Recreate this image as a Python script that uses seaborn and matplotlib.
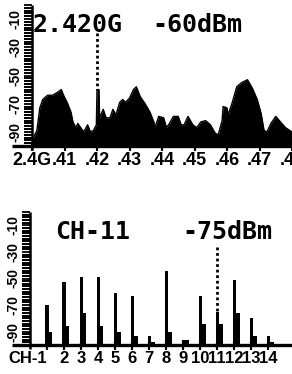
import numpy as np
import seaborn as sns
import matplotlib.pyplot as plt
from matplotlib.ticker import FixedLocator, MultipleLocator
import matplotlib.transforms as mtrans

sns.set_theme(style="ticks")
plt.rcParams['font.family'] = ['Liberation Sans', 'DejaVu Sans']

# spectrum scan, top panel
freq_mhz = [2400.0, 2401.5, 2402.4, 2403.3, 2404.8, 2406.3, 2407.8, 2409.0, 2409.9, 2410.8,
            2412.0, 2412.6, 2413.5, 2414.1, 2415.0, 2415.9, 2417.1, 2418.0, 2418.9, 2419.8,
            2420.0, 2420.6, 2420.8, 2421.9, 2422.8, 2424.0, 2424.9, 2425.8, 2427.0, 2427.9,
            2428.8, 2430.0, 2431.2, 2432.1, 2433.3, 2434.8, 2436.3, 2437.5, 2437.8, 2439.0,
            2440.5, 2441.4, 2442.3, 2443.5, 2445.0, 2445.9, 2446.8, 2448.0, 2449.5, 2450.7,
            2451.9, 2453.4, 2454.9, 2456.4, 2457.3, 2458.5, 2458.8, 2460.0, 2460.3, 2461.5,
            2463.0, 2464.5, 2466.3, 2467.8, 2469.3, 2470.5, 2471.4, 2472.3, 2473.5, 2475.0,
            2476.5, 2478.0, 2480.0]
level_dbm = [-96, -89, -73, -67, -64, -64, -62, -60, -65, -69,
             -76, -83, -87, -84, -87, -90, -85, -90, -89, -85,
             -60, -60, -80, -74, -80, -80, -74, -78, -69, -67,
             -69, -66, -60, -58, -65, -70, -76, -83, -87, -79,
             -80, -87, -84, -79, -79, -85, -85, -79, -85, -87,
             -83, -82, -85, -91, -92, -82, -72, -73, -78, -70,
             -58, -55, -53, -59, -67, -77, -89, -90, -84, -79,
             -83, -87, -90]
marker_freq = 2420.0
marker_dbm = -60
freq_ticks = [2400, 2410, 2420, 2430, 2440, 2450, 2460, 2470, 2480]
freq_labels = ["2.4G", ".41", ".42", ".43", ".44", ".45", ".46", ".47", ".48"]

# channel scan, bottom panel
channels = list(range(1, 15))
ch_peak = [-70, -53, -49, -49, -61, -63, -93, -44, -96, -63, -75, -51, -80, -93]
ch_avg = [-90, -86, -76, -86, -90, -93, -98, -90, -96, -84, -84, -76, -93, -98]
ch_marker = 11
ch_labels = ["CH-1"] + [str(c) for c in channels[1:]]

dbm_ticks = [-10, -30, -50, -70, -90]
floor = -100

fig = plt.figure(figsize=(2.92, 3.74), dpi=100)
W, H = 292, 374
ax1 = fig.add_axes([32 / W, (H - 146) / H, 260 / W, 141 / H])
ax2 = fig.add_axes([30 / W, (H - 345) / H, 262 / W, 133 / H])

# --- top: spectrum ---
ax1.fill_between(freq_mhz, level_dbm, floor, color="black", lw=0)
sns.lineplot(x=freq_mhz, y=level_dbm, color="black", lw=1, ax=ax1)
ax1.plot([marker_freq, marker_freq], [-20, marker_dbm], color="black",
         lw=2, linestyle=(0, (1, 1)))
ax1.set_xlim(2400, 2480)
ax1.set_ylim(floor, 0)
ax1.xaxis.set_major_locator(FixedLocator(freq_ticks))
ax1.set_xticklabels(freq_labels, fontsize=13, fontweight="bold")
ax1.yaxis.set_major_locator(FixedLocator(dbm_ticks))
ax1.set_yticklabels([str(t) for t in dbm_ticks], rotation=90, va="center",
                    fontsize=10, fontweight="bold")
ax1.yaxis.set_minor_locator(MultipleLocator(2))

# --- bottom: channels ---
sns.barplot(x=channels, y=np.array(ch_peak) - floor, native_scale=True, width=0.18,
            color="black", linewidth=0, saturation=1, errorbar=None, ax=ax2)
sns.barplot(x=np.array(channels) + 0.2, y=np.array(ch_avg) - floor, native_scale=True,
            width=0.24, color="black", linewidth=0, saturation=1, errorbar=None, ax=ax2)
ax2.plot([ch_marker, ch_marker], [74, ch_peak[ch_marker - 1] - floor], color="black",
         lw=2, linestyle=(0, (1, 1)))
ax2.set_xlim(0, 15.4)
ax2.set_ylim(0, 100)
ax2.xaxis.set_major_locator(FixedLocator(channels))
ax2.set_xticklabels(ch_labels, fontsize=12, fontweight="bold")
ax2.yaxis.set_major_locator(FixedLocator([t - floor for t in dbm_ticks]))
ax2.set_yticklabels([str(t) for t in dbm_ticks], rotation=90, va="center",
                    fontsize=10, fontweight="bold")
ax2.yaxis.set_minor_locator(MultipleLocator(2))
lab0 = ax2.get_xticklabels()[0]
lab0.set_horizontalalignment("right")
lab0.set_transform(lab0.get_transform() + mtrans.ScaledTranslation(5 / 100, 0, fig.dpi_scale_trans))

for ax, x0, wpx in ((ax1, -20 / 260, 260), (ax2, -18 / 262, 262)):
    ax.set_xlabel("")
    ax.set_ylabel("")
    ax.patch.set_alpha(0)
    for s in ("top", "right", "bottom", "left"):
        ax.spines[s].set_visible(False)
    ax.plot([x0, 1], [0, 0], transform=ax.transAxes, color="black", lw=2.4,
            clip_on=False, solid_capstyle="butt")
    ax.plot([0, 0], [-0.03, 1], transform=ax.transAxes, color="black", lw=1.8,
            clip_on=False, solid_capstyle="butt")
    ax.tick_params(axis="x", which="major", direction="inout", length=6, width=1.5,
                   color="black", pad=1, labelcolor="black", bottom=True)
    ax.tick_params(axis="y", which="both", direction="out", length=6, width=1.3,
                   color="black", pad=1, labelcolor="black", left=True)
    # ladder ticks on the y axis and ticks on the baseline, drawn explicitly
    ylo, yhi = ax.get_ylim()
    ladder = [v for v in ax.get_yticks(minor=True) if ylo < v < yhi]
    ax.hlines(ladder, -8 / wpx, 0, transform=ax.get_yaxis_transform(),
              color="black", lw=1.3, clip_on=False)
    xlo, xhi = ax.get_xlim()
    xt = [v for v in ax.get_xticks() if xlo <= v <= xhi]
    ax.vlines(xt, -0.035, 0.02, transform=ax.get_xaxis_transform(),
              color="black", lw=1.5, clip_on=False)

mono = "DejaVu Sans Mono"
fig.text(33 / W, 1 - 32 / H, f"{marker_freq / 1000:.3f}G", family=mono, fontsize=18,
         fontweight="bold", va="baseline", ha="left", color="black")
fig.text(152 / W, 1 - 32 / H, f"{marker_dbm}dBm", family=mono, fontsize=18,
         fontweight="bold", va="baseline", ha="left", color="black")
fig.text(55 / W, 1 - 239 / H, f"CH-{ch_marker}", family=mono, fontsize=18,
         fontweight="bold", va="baseline", ha="left", color="black")
fig.text(182 / W, 1 - 239 / H, f"{ch_peak[ch_marker - 1]}dBm", family=mono, fontsize=18,
         fontweight="bold", va="baseline", ha="left", color="black")

fig.savefig("out.png", dpi=100, facecolor="white")
